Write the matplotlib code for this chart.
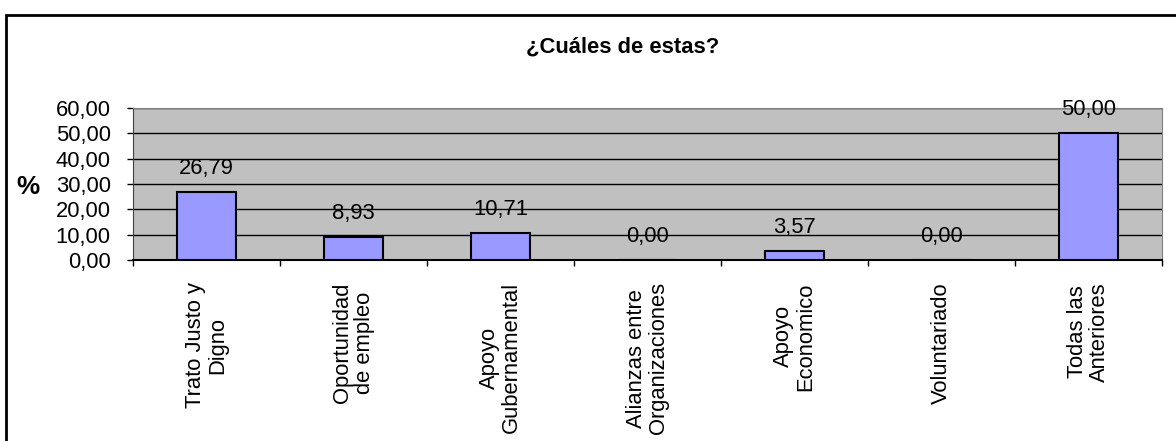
import numpy as np
import matplotlib.pyplot as plt
from matplotlib.patches import Rectangle

# Data
categories = [
    "Trato Justo y\nDigno",
    "Oportunidad\nde empleo",
    "Apoyo\nGubernamental",
    "Alianzas entre\nOrganizaciones",
    "Apoyo\nEconomico",
    "Voluntariado",
    "Todas las\nAnteriores",
]
values = [26.79, 8.93, 10.71, 0.00, 3.57, 0.00, 50.00]
yticks = [0, 10, 20, 30, 40, 50, 60]

TITLE = "¿Cuáles de estas?"
FS = 15.8

plt.rcParams["font.family"] = ["Liberation Sans", "DejaVu Sans"]

fig = plt.figure(figsize=(11.76, 4.41), dpi=100)
fig.patch.set_facecolor("white")
ax = fig.add_axes([133 / 1176, 1 - 260 / 441, (1162 - 133) / 1176, (260 - 108) / 441])
ax.set_facecolor("#C0C0C0")

x = np.arange(len(categories))
ax.bar(x, values, width=0.4, color="#9999FF", edgecolor="black", linewidth=1.5, zorder=3)

for xi, v in zip(x, values):
    ax.annotate(f"{v:.2f}".replace(".", ","), (xi, v), xytext=(0, 17),
                textcoords="offset points", ha="center", va="center",
                fontsize=FS, zorder=4)

ax.set_xlim(-0.5, len(categories) - 0.5)
ax.set_ylim(0, 60)
ax.set_yticks(yticks)
ax.set_yticklabels([f"{t:.2f}".replace(".", ",") for t in yticks], fontsize=FS)
ax.yaxis.grid(True, color="black", linewidth=1.0, zorder=1)
ax.set_axisbelow(True)

ax.set_xticks(x)
ax.set_xticklabels(categories, rotation=90, ha="center", va="top",
                   multialignment="center", fontsize=FS, linespacing=1.05)
ax.tick_params(axis="x", which="major", length=0, pad=16)
ax.set_xticks(np.arange(-0.5, len(categories)), minor=True)
ax.tick_params(axis="x", which="minor", length=4, width=1.0, direction="out")
ax.tick_params(axis="y", length=4, width=1.0, pad=12)

for s in ["top", "right"]:
    ax.spines[s].set_color("#808080")
ax.spines["left"].set_color("#404040")
ax.spines["bottom"].set_color("black")
ax.spines["bottom"].set_linewidth(1.5)

fig.text(28 / 1176, 1 - 187 / 441, "%", fontsize=FS + 3, fontweight="bold",
         ha="center", va="center")
fig.text(623 / 1176, 1 - 47 / 441, TITLE, fontsize=FS, fontweight="bold",
         ha="center", va="center")

fig.patches.append(Rectangle((6 / 1176, -0.1), 1.2, 1.1 - 15 / 441,
                             transform=fig.transFigure, fill=False,
                             edgecolor="black", linewidth=2.0))

fig.savefig("out.png", dpi=100)
